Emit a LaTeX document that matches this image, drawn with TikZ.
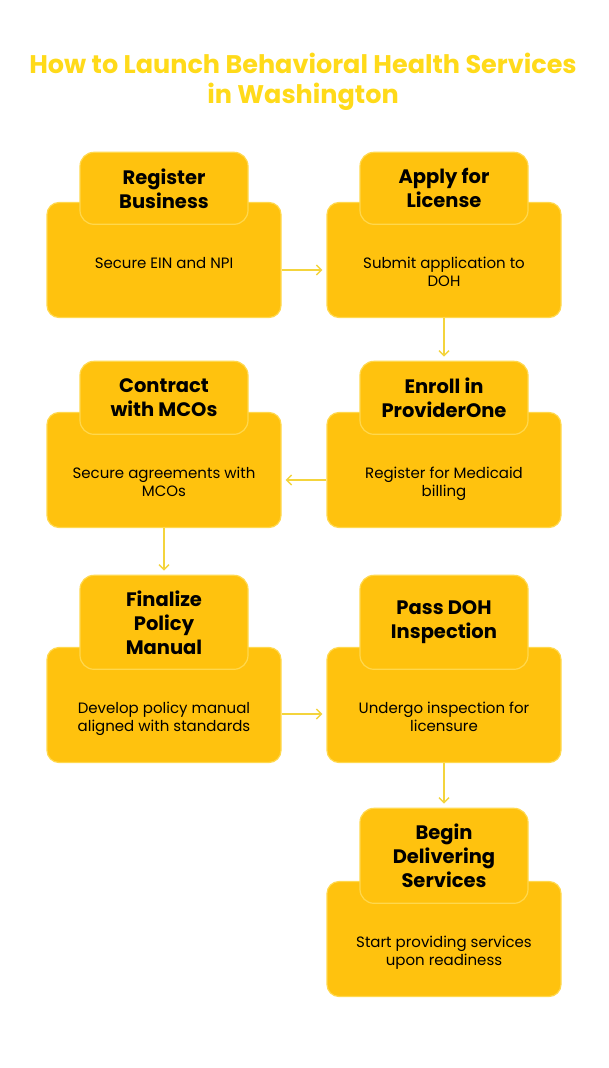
\documentclass[tikz,border=0pt]{standalone}
\usepackage{fontspec}
\setmainfont{Poppins}
\usetikzlibrary{arrows.meta}
\definecolor{amber}{HTML}{FFC20E}
\definecolor{rim}{HTML}{FFD84D}
\definecolor{gold}{HTML}{FFDA1A}
\definecolor{link}{HTML}{F4D43C}
\begin{document}
\begin{tikzpicture}[x=1pt, y=-1pt,
    box/.style={draw=rim, fill=amber, line width=1.2pt, rounded corners=12pt,
        minimum width=234pt, minimum height=115pt},
    tab/.style={draw=rim, fill=amber, line width=1.2pt, rounded corners=14pt,
        minimum width=168pt, minimum height=#1, align=center,
        font=\fontsize{19.5}{24}\selectfont\bfseries},
    tab/.default=73pt,
    desc/.style={anchor=north, align=center, inner sep=0pt,
        font=\fontsize{15}{17.5}\selectfont},
    arr/.style={draw=link, line width=1.4pt,
        -{Straight Barb[length=5pt,width=10pt]}, shorten >=4pt}]
    \useasboundingbox (0,0) rectangle (608,1068);
    \node[text=gold, align=center, font=\fontsize{25.5}{30}\selectfont\bfseries]
        (title) at (303,82) {How to Launch Behavioral Health Services\\in Washington};
    % steps
    \foreach \n/\x/\y/\h/\head/\body in {
        reg/164/260/72/{Register\\Business}/{Secure EIN and NPI},
        lic/444/260/72/{Apply for\\License}/{Submit application to\\DOH},
        enr/444/470/73/{Enroll in\\ProviderOne}/{Register for Medicaid\\billing},
        mco/164/470/73/{Contract\\with MCOs}/{Secure agreements with\\MCOs},
        pol/164/705/94/{Finalize\\Policy\\Manual}/{Develop policy manual\\aligned with standards},
        doh/444/705/94/{Pass DOH\\Inspection}/{Undergo inspection for\\licensure},
        beg/444/939/95/{Begin\\Delivering\\Services}/{Start providing services\\upon readiness}} {
        \node[box] (\n) at (\x,\y) {};
        \node[tab=\h pt, anchor=south] (\n-top) at ([yshift=-23pt]\n.north) {\head};
        \node[desc] (\n-txt) at ([yshift=-55pt]\n.north) {\body};
    }
    % links
    \draw[arr] ([yshift=-10pt]reg.east) -- ([yshift=-10pt]lic.west);
    \draw[arr] (lic.south) -- (enr-top.north);
    \draw[arr] ([yshift=-10pt]enr.west) -- ([yshift=-10pt]mco.east);
    \draw[arr] (mco.south) -- (pol-top.north);
    \draw[arr] ([yshift=-9pt]pol.east) -- ([yshift=-9pt]doh.west);
    \draw[arr] (doh.south) -- (beg-top.north);
\end{tikzpicture}
\end{document}
